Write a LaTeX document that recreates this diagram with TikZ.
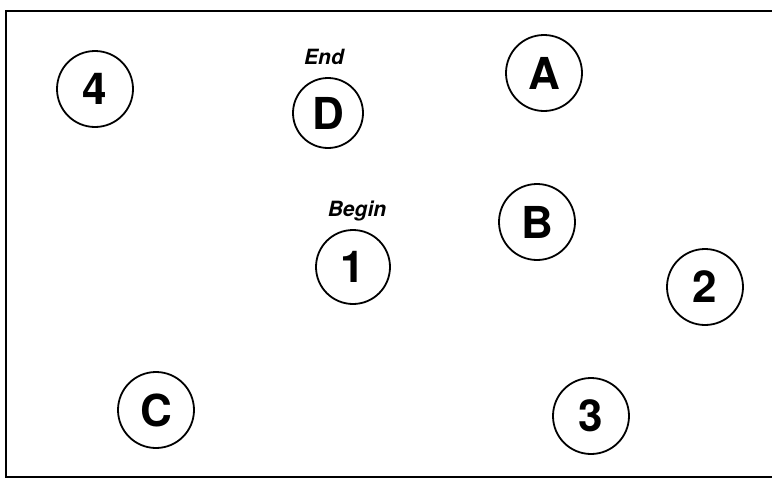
\documentclass[tikz,border=0pt]{standalone}
\usepackage{fontspec}
\setsansfont{TeX Gyre Heros}
\usetikzlibrary{positioning}

\begin{document}
\begin{tikzpicture}[
  x=1pt, y=-1pt,
  spot/.style={circle, draw, line width=1.8pt, minimum size=76pt, inner sep=0pt, font=\sffamily\bfseries\fontsize{44}{44}\selectfont},
  tag/.style={font=\sffamily\bfseries\itshape\fontsize{21}{21}\selectfont}
]
\useasboundingbox (0,0) rectangle (772,479);
\draw[line width=1.6pt] (772,11) -- (6,11) -- (6,477) -- (772,477);
\node[spot] (four) at (95,89) {4};
\node[spot, minimum size=70pt] (d) at (328,113) {D};
\node[spot] (a) at (544,73) {A};
\node[spot] (b) at (537,222) {B};
\node[spot, minimum size=74pt] (one) at (353,267) {1};
\node[spot] (two) at (705,287) {2};
\node[spot] (c) at (156,410) {C};
\node[spot] (three) at (591,416) {3};
\node[tag, above=9pt of d, xshift=-4pt] (end) {End};
\node[tag, above=4pt of one, xshift=4pt] (begin) {Begin};
\end{tikzpicture}
\end{document}
